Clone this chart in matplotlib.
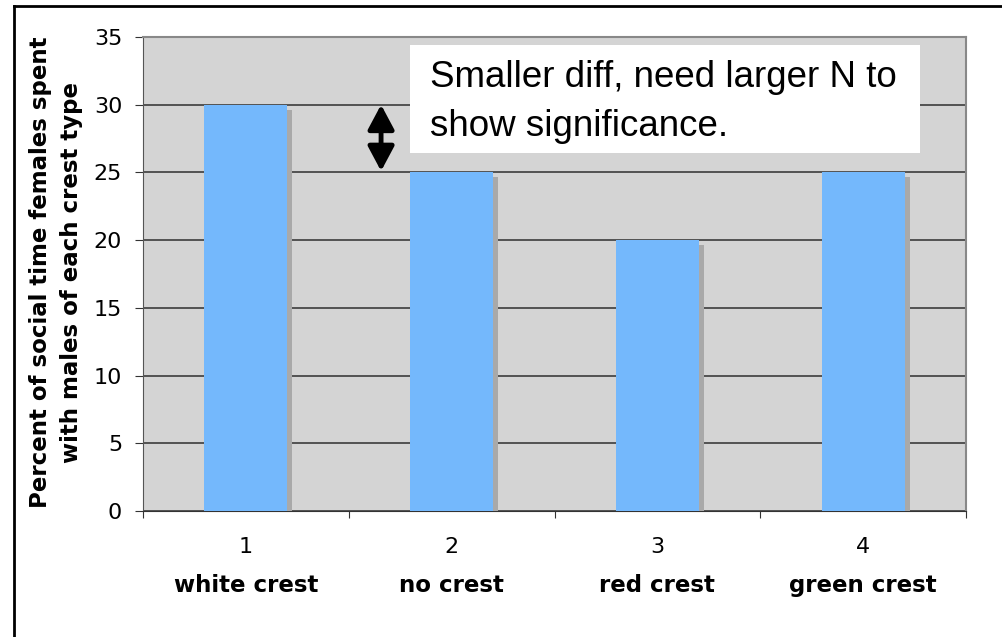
import matplotlib
matplotlib.use('Agg')
import matplotlib.pyplot as plt
import matplotlib.patheffects as pe
from matplotlib.patches import Rectangle
from matplotlib.lines import Line2D

positions = [1, 2, 3, 4]
numbers = ['1', '2', '3', '4']
crests = ['white crest', 'no crest', 'red crest', 'green crest']
percent = [30, 25, 20, 25]
yticks = [0, 5, 10, 15, 20, 25, 30, 35]

fig = plt.figure(figsize=(10.03, 6.37), dpi=100)
ax = fig.add_axes([0.1426, 0.1978, 0.8205, 0.7441])
ax.set_facecolor('#d4d4d4')

shadow = [pe.SimplePatchShadow(offset=(3.6, -3.6), shadow_rgbFace='#a9a9a9', alpha=1.0), pe.Normal()]
bars = ax.bar(positions, percent, width=0.403, color='#74b8fc', zorder=3)
for b in bars:
    b.set_path_effects(shadow)

ax.set_xlim(0.5, 4.5)
ax.set_ylim(0, 35)
ax.set_yticks(yticks)
ax.set_yticklabels([str(v) for v in yticks], fontsize=16)
ax.yaxis.grid(True, color='#3c3c3c', linewidth=1.2, zorder=1)
ax.set_axisbelow(True)

# ticks at category boundaries, labels centred
ax.set_xticks([0.5, 1.5, 2.5, 3.5, 4.5])
ax.set_xticklabels([])
ax.tick_params(axis='x', direction='out', length=5, color='#333333')
ax.tick_params(axis='y', direction='out', length=6, color='#333333', pad=9)
for x, n, c in zip(positions, numbers, crests):
    ax.text(x, -0.076, n, transform=ax.get_xaxis_transform(), ha='center', va='center', fontsize=16)
    ax.text(x, -0.158, c, transform=ax.get_xaxis_transform(), ha='center', va='center',
            fontsize=16.5, fontweight='bold')

for s in ['top', 'right']:
    ax.spines[s].set_color('#888888')
    ax.spines[s].set_linewidth(1.5)
ax.spines['left'].set_color('#555555')
ax.spines['bottom'].set_color('#333333')

fig.text(0.040, 0.572, 'Percent of social time females spent', rotation=90, ha='center', va='center',
         fontsize=16.5, fontweight='bold')
fig.text(0.071, 0.572, 'with males of each crest type', rotation=90, ha='center', va='center',
         fontsize=16.5, fontweight='bold')

# double arrow showing the difference
ax.annotate('', xy=(1.657, 25.1), xytext=(1.657, 30),
            arrowprops=dict(arrowstyle='<|-|>,head_length=1.5,head_width=0.8', color='black', lw=3.5,
                            shrinkA=0, shrinkB=0), zorder=5)

fig.patches.append(Rectangle((0.4088, 0.7598), 0.5085, 0.1695, transform=fig.transFigure,
                             facecolor='white', edgecolor='none', zorder=10))
fig.text(0.4287, 0.840, 'Smaller diff, need larger N to\nshow significance.', ha='left', va='center',
         fontsize=26.5, family='Liberation Sans', linespacing=1.5, zorder=11)

# outer frame
fig.lines.append(Line2D([0.0135, 0.0135], [0, 0.991], transform=fig.transFigure, color='black', lw=2))
fig.lines.append(Line2D([0.0135, 1.0], [0.991, 0.991], transform=fig.transFigure, color='black', lw=2))

fig.savefig('out.png', dpi=100)
